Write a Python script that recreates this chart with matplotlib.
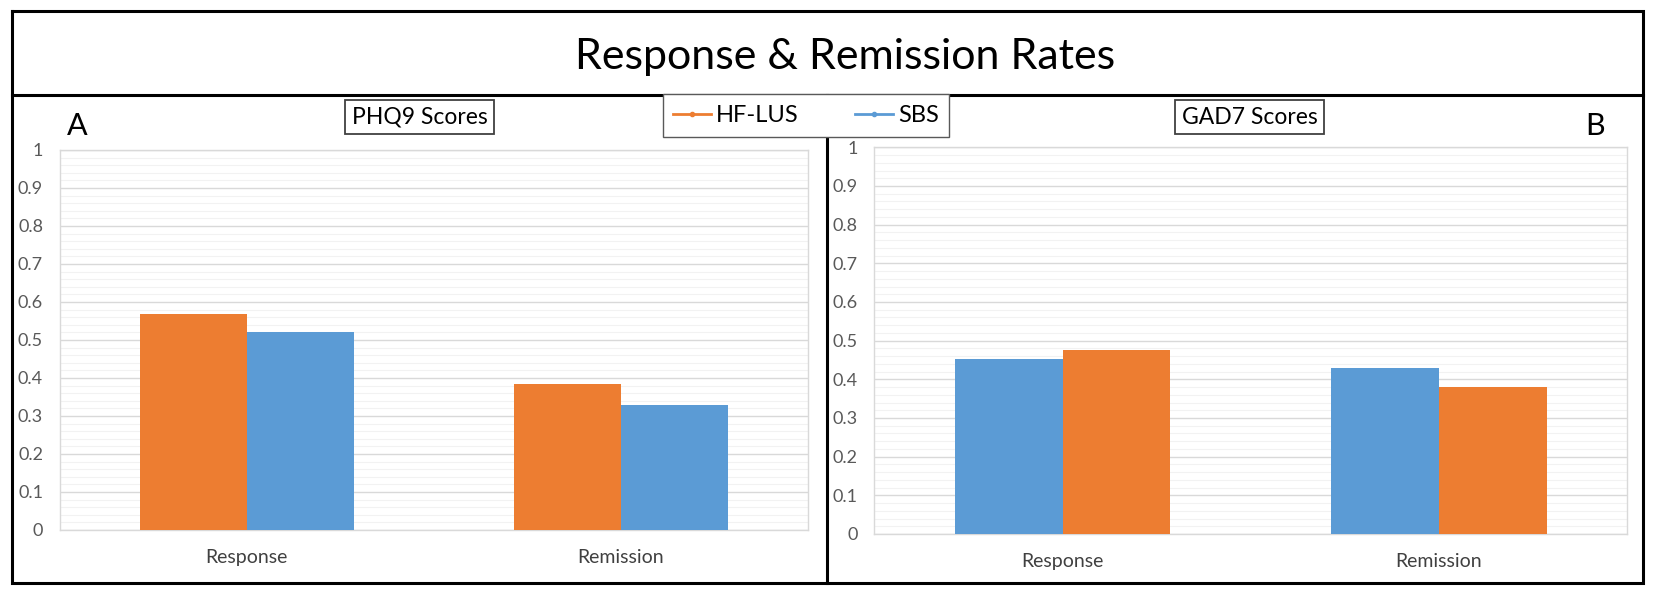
import numpy as np
import matplotlib
matplotlib.use("Agg")
import matplotlib.pyplot as plt
from matplotlib.lines import Line2D
from matplotlib.ticker import MultipleLocator, FuncFormatter

plt.rcParams['font.family'] = ['Lato', 'DejaVu Sans']

# ---------------- data ----------------
categories = ["Response", "Remission"]
phq9_hflus = [0.568, 0.385]
phq9_sbs = [0.522, 0.330]
gad7_sbs = [0.452, 0.428]
gad7_hflus = [0.475, 0.380]
yticks = np.arange(0, 1.01, 0.1)

ORANGE = "#ED7D31"
BLUE = "#5B9BD5"
W, H = 1654, 595

fig = plt.figure(figsize=(W / 100, H / 100), dpi=100)


def fx(px):
    return px / W


def fy(py):
    return 1 - py / H


def style_axis(ax):
    ax.set_xlim(-0.5, 1.5)
    ax.set_ylim(0, 1)
    ax.set_yticks(yticks)
    ax.yaxis.set_major_formatter(FuncFormatter(lambda v, p: ("%.1f" % v).rstrip('0').rstrip('.') if v > 0 else "0"))
    ax.yaxis.set_minor_locator(MultipleLocator(0.02))
    ax.grid(axis='y', which='major', color='#d9d9d9', lw=1.0, zorder=0)
    ax.grid(axis='y', which='minor', color='#f2f2f2', lw=0.8, zorder=0)
    ax.set_axisbelow(True)
    ax.set_xticks(range(len(categories)))
    ax.set_xticklabels(categories, fontsize=14, color='#404040')
    ax.tick_params(axis='both', which='both', length=0)
    ax.tick_params(axis='y', labelsize=13, labelcolor='#595959', pad=12)
    ax.tick_params(axis='x', pad=14)
    for s in ax.spines.values():
        s.set_color('#d9d9d9')
        s.set_linewidth(1.0)


bw = 0.286
x = np.arange(len(categories))

# panel A
axA = fig.add_axes([fx(59.7), fy(530), fx(807.7 - 59.7), (530 - 150) / H])
axA.bar(x - bw / 2, phq9_hflus, bw, color=ORANGE, zorder=3)
axA.bar(x + bw / 2, phq9_sbs, bw, color=BLUE, zorder=3)
style_axis(axA)

# panel B
axB = fig.add_axes([fx(874.3), fy(534), fx(1627.3 - 874.3), (534 - 147.3) / H])
axB.bar(x - bw / 2, gad7_sbs, bw, color=BLUE, zorder=3)
axB.bar(x + bw / 2, gad7_hflus, bw, color=ORANGE, zorder=3)
style_axis(axB)

# frame lines
frame = fig.add_axes([0, 0, 1, 1], zorder=-1)
frame.set_xlim(0, W)
frame.set_ylim(H, 0)
frame.axis('off')
lw = 2.2
frame.plot([12, 1643, 1643, 12, 12], [11, 11, 583, 583, 11], color='black', lw=lw, solid_joinstyle='miter')
frame.plot([12, 1643], [95, 95], color='black', lw=lw)
frame.plot([826.7, 826.7], [95, 583], color='black', lw=lw)

fig.text(fx(845), fy(57), "Response & Remission Rates", ha='center', va='center', fontsize=31)

fig.text(fx(77), fy(126), "A", ha='center', va='center', fontsize=22)
fig.text(fx(1595), fy(126), "B", ha='center', va='center', fontsize=22)

box = dict(boxstyle='square,pad=0.3', facecolor='white', edgecolor='#404040', lw=1.3)
fig.text(fx(419.5), fy(117), "PHQ9 Scores", ha='center', va='center', fontsize=16.5, bbox=box)
fig.text(fx(1249.5), fy(117), "GAD7 Scores", ha='center', va='center', fontsize=16.5, bbox=box)

handles = [Line2D([], [], color=ORANGE, lw=2, marker='o', markersize=3),
           Line2D([], [], color=BLUE, lw=2, marker='o', markersize=3)]
leg = fig.legend(handles, ["HF-LUS", "SBS"], loc='center', ncol=2,
                 bbox_to_anchor=(fx(806), fy(115.5)), fontsize=17,
                 frameon=True, fancybox=False, edgecolor='#595959',
                 facecolor='white', framealpha=1,
                 handlelength=1.6, handletextpad=0.2, columnspacing=2.4,
                 borderpad=0.45, borderaxespad=0)
leg.get_frame().set_linewidth(1.0)
leg.set_zorder(10)

fig.savefig("out.png", dpi=100)
